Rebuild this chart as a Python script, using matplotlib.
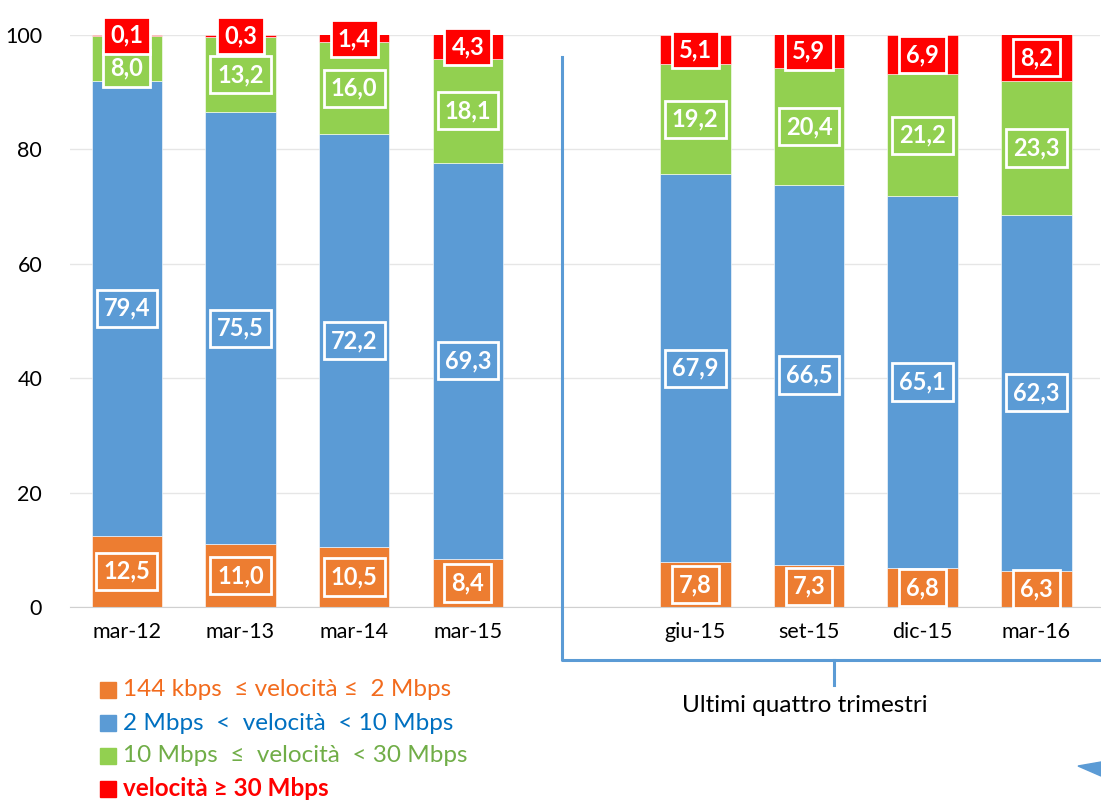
import matplotlib.pyplot as plt
from matplotlib.lines import Line2D
from matplotlib.patches import Polygon, Rectangle

plt.rcParams['font.family'] = ['Lato', 'DejaVu Sans']

posizioni = [0, 1, 2, 3, 5, 6, 7, 8]
etichette = ['mar-12', 'mar-13', 'mar-14', 'mar-15', 'giu-15', 'set-15', 'dic-15', 'mar-16']

lenta = [12.5, 11.0, 10.5, 8.4, 7.8, 7.3, 6.8, 6.3]        # 144 kbps - 2 Mbps
media = [79.4, 75.5, 72.2, 69.3, 67.9, 66.5, 65.1, 62.3]   # 2 - 10 Mbps
veloce = [8.0, 13.2, 16.0, 18.1, 19.2, 20.4, 21.2, 23.3]   # 10 - 30 Mbps
ultra = [0.1, 0.3, 1.4, 4.3, 5.1, 5.9, 6.9, 8.2]           # >= 30 Mbps

serie = [lenta, media, veloce, ultra]
colori = ['#ED7D31', '#5B9BD5', '#92D050', '#FF0000']
legenda = ['144 kbps  \u2264 velocit\u00e0 \u2264  2 Mbps',
           '2 Mbps  <  velocit\u00e0  < 10 Mbps',
           '10 Mbps  \u2264  velocit\u00e0  < 30 Mbps',
           'velocit\u00e0 \u2265 30 Mbps']
colori_testo = ['#F26B1D', '#0070C0', '#70AD47', '#FF0000']

fig = plt.figure(figsize=(11.01, 8.01), dpi=100)
ax = fig.add_axes([70 / 1101, 194 / 801, 1030 / 1101, 572 / 801])

base = [0.0] * len(posizioni)
for k, (vals, col) in enumerate(zip(serie, colori)):
    ax.bar(posizioni, vals, width=0.62, bottom=base, color=col,
           edgecolor='white', linewidth=0.4, zorder=2)
    for x, b, v in zip(posizioni, base, vals):
        y = min(b + v / 2, 100)
        if k == 2:
            # lascia spazio all'etichetta rossa in cima
            y = min(y, 94.2)
        ax.text(x, y, f'{v:.1f}'.replace('.', ','), ha='center', va='center',
                color='white', fontsize=17, fontweight='bold', zorder=4,
                bbox=dict(boxstyle='square,pad=0.3', fc=col, ec='white', lw=2),
                clip_on=False)
    base = [b + v for b, v in zip(base, vals)]

ax.set_ylim(0, 100)
ax.set_xlim(-0.5, 8.56)
ax.set_yticks([0, 20, 40, 60, 80, 100])
ax.set_xticks(posizioni)
ax.set_xticklabels(etichette)
ax.tick_params(axis='both', length=0, labelsize=15.5, colors='black')
ax.tick_params(axis='x', pad=11)
ax.tick_params(axis='y', pad=20)
ax.grid(axis='y', color='#E6E6E6', linewidth=1, zorder=0)
for s in ['top', 'right', 'left']:
    ax.spines[s].set_visible(False)
ax.spines['bottom'].set_color('#D0D0D0')

# parentesi sugli ultimi quattro trimestri
blu = '#5B9BD5'
def fx(px):
    return px / 1101
def fy(py):
    return 1 - py / 801
fig.add_artist(Line2D([fx(562), fx(562), fx(1101)], [fy(57), fy(660), fy(660)],
                      color=blu, lw=2.2))
fig.add_artist(Line2D([fx(834), fx(834)], [fy(660), fy(685)], color=blu, lw=2.2))
fig.text(fx(805), fy(706), 'Ultimi quattro trimestri', ha='center', va='center',
         fontsize=17.5, color='black')
fig.add_artist(Polygon([[fx(1078), fy(766)], [fx(1101), fy(762)], [fx(1101), fy(776)]],
                       closed=True, color=blu))

# legenda
righe_y = [690, 723, 756, 789]
for i, (py, col, tcol, lab) in enumerate(zip(righe_y, colori, colori_testo, legenda)):
    fig.add_artist(Rectangle((fx(100), fy(py + 8)), 16 / 1101, 16 / 801,
                             transform=fig.transFigure, color=col))
    fig.text(fx(123), fy(py), lab, ha='left', va='center', fontsize=17.5,
             color=tcol, fontweight='bold' if i == 3 else 'normal')

fig.savefig('out.png', dpi=100)
